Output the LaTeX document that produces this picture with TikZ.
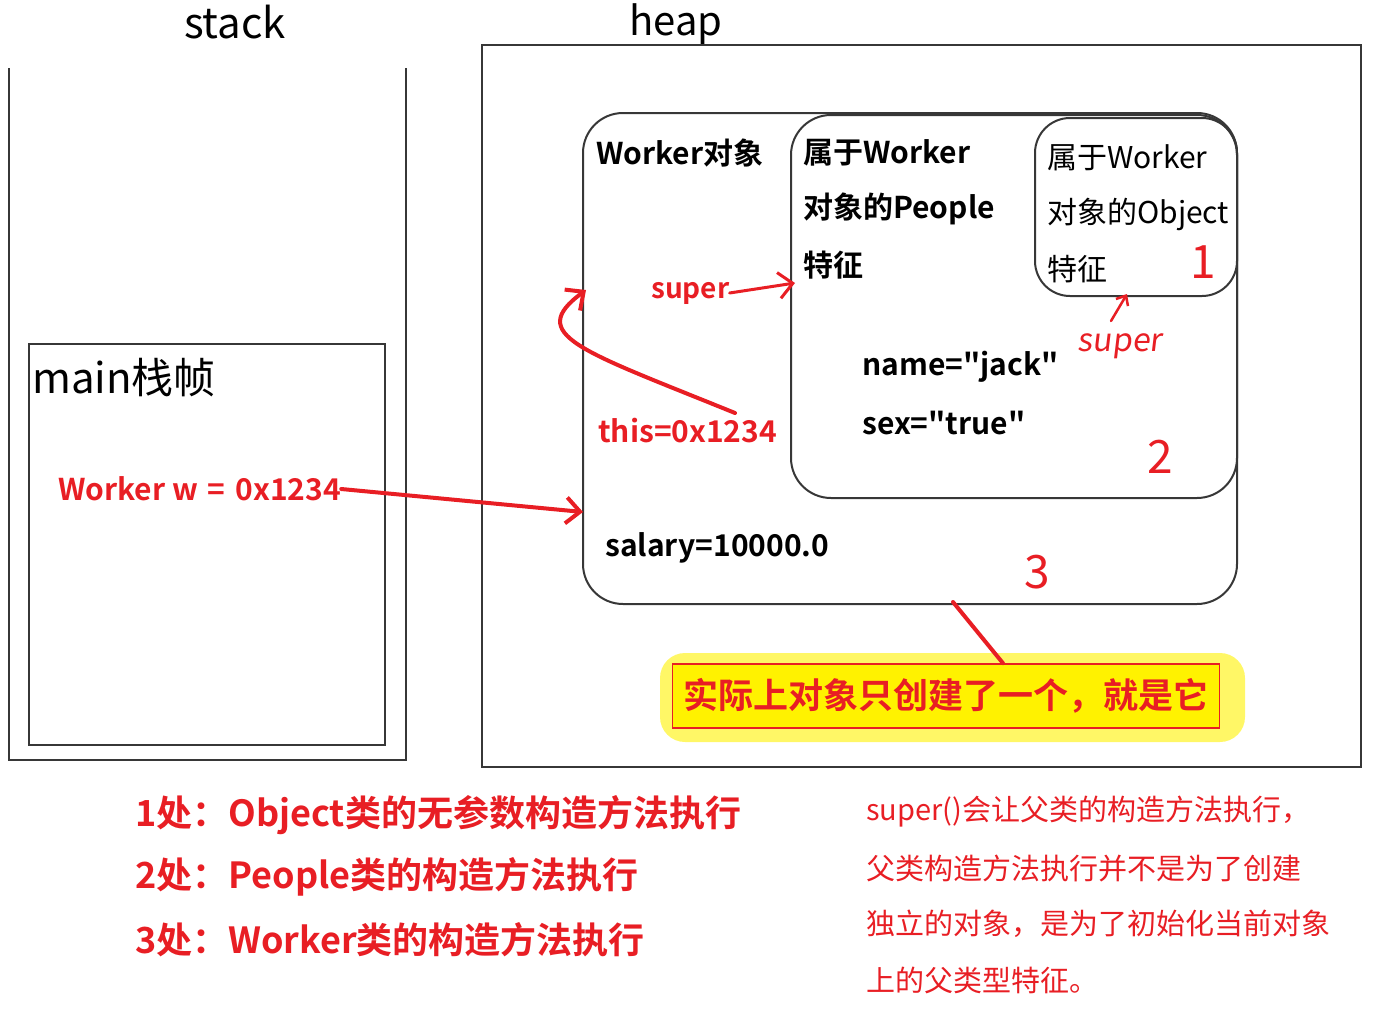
\documentclass[tikz,border=0pt]{standalone}
\usepackage{fontspec}
\setmainfont{Noto Sans CJK SC}[BoldFont={Noto Sans CJK SC Bold}, Ligatures=TeXOff]
\newfontfamily\handfont{Noto Sans CJK SC}[FakeSlant=0.12, Ligatures=TeXOff]
\usetikzlibrary{arrows.meta}
\definecolor{hred}{RGB}{232,30,36}
\definecolor{hyellow}{RGB}{255,242,0}
\definecolor{lgray}{RGB}{55,55,55}
\newcommand{\fs}[1]{\fontsize{#1}{#1}\selectfont}
\tikzset{
  box/.style={draw=lgray, line width=2pt, rounded corners=40pt, inner sep=0pt},
  txt/.style={inner sep=0pt, anchor=west},
  redline/.style={draw=hred, line width=4pt, line cap=round},
  redarrow/.style={redline, -{Straight Barb[length=14pt, width=26pt]}},
}

\begin{document}
\begin{tikzpicture}[x=1pt, y=-1pt]
        \useasboundingbox (0,0) rectangle (1377,1009);

        % stack
        \node[inner sep=0pt] (stacklbl) at (235,22) {\fs{42}stack};
        \draw[lgray, line width=2pt] (9,68) -- (9,760) -- (406,760) -- (406,68);
        % main frame
        \draw[lgray, line width=2pt] (29,344) rectangle (385,745);
        \node[txt] (mainlbl) at (32,378) {\fs{42}main栈帧};
        \node[txt, text=hred] (wvar) at (58,489) {\fs{30}\bfseries Worker w\,\,=\,\,0x1234};

        % heap
        \node[inner sep=0pt] (heaplbl) at (676,24) {\fs{40}heap};
        \draw[lgray, line width=2pt] (482,45) rectangle (1361,767);

        % worker object
        \node[box, minimum width=654pt, minimum height=491pt] (worker) at (910,358.5) {};
        \node[txt] (workerlbl) at (596,153) {\fs{30}\bfseries Worker对象};
        % people part
        \node[box, minimum width=446pt, minimum height=383pt] (people) at (1014,306.5) {};
        \node[txt] (pl1) at (803,153) {\fs{30}\bfseries 属于Worker};
        \node[txt] (pl2) at (803,209) {\fs{30}\bfseries 对象的People};
        \node[txt] (pl3) at (803,265) {\fs{30}\bfseries 特征};
        % object part
        \node[box, rounded corners=35pt, minimum width=202pt, minimum height=178pt] (object) at (1136,207) {};
        \node[txt] (ol1) at (1047,158) {\fs{30}属于Worker};
        \node[txt] (ol2) at (1047,214) {\fs{30}对象的Object};
        \node[txt] (ol3) at (1047,269) {\fs{30}特征};

        % numbers
        \node[inner sep=0pt, text=hred] (num1) at (1203,262) {\fs{46}1};
        \node[inner sep=0pt, text=hred] (num2) at (1160,457) {\fs{46}2};
        \node[inner sep=0pt, text=hred] (num3) at (1037,572) {\fs{46}3};

        % fields
        \node[txt] (name) at (862,367) {\fs{30}\bfseries name="jack"};
        \node[txt] (sex) at (862,423) {\fs{30}\bfseries sex="true"};
        \node[txt] (salary) at (605,548) {\fs{30}\bfseries salary=10000.0};

        % reference w
        \coordinate (wtarget) at (583,512);
        \draw[redarrow] (wvar.east) -- (wtarget);

        % this and super
        \node[txt, text=hred] (thisref) at (598,431) {\fs{30}\bfseries this=0x1234};
        \node[txt, text=hred] (supera) at (651,293) {\fs{28}\bfseries super};
        \coordinate (curvestart) at (735,413);
        \coordinate (curveend) at (586,290);
        \draw[redarrow] (curvestart) .. controls (580,350) and (525,335) .. (curveend);
        \coordinate (peopleleft) at (795,283);
        \draw[redarrow, line width=3pt] (supera.east) -- (peopleleft);

        % super into object part
        \node[inner sep=0pt, text=hred] (superb) at (1120,346) {\fs{32}\handfont super};
        \coordinate (objbottom) at (1127,294);
        \draw[redarrow, line width=2.5pt, -{Straight Barb[length=8pt, width=14pt]}] (1111,321) -- (objbottom);

        % note
        \fill[hyellow, fill opacity=0.6, rounded corners=25pt] (660,653) rectangle (1245,742);
        \node[draw=hred, line width=1.5pt, fill=hyellow, inner sep=0pt, minimum width=547pt, minimum height=64pt, text=hred] (note) at (946,696) {\fs{35}\bfseries 实际上对象只创建了一个，就是它};
        \coordinate (pin) at (953,602);
        \draw[redline] (pin) -- ([xshift=57pt]note.north);

        % explanations
        \node[txt, text=hred] (step1) at (135,815) {\fs{36}\bfseries 1处：Object类的无参数构造方法执行};
        \node[txt, text=hred] (step2) at (135,877) {\fs{36}\bfseries 2处：People类的构造方法执行};
        \node[txt, text=hred] (step3) at (135,940) {\fs{36}\bfseries 3处：Worker类的构造方法执行};

        \node[txt, text=hred] (why1) at (866,812) {\fs{29}super()会让父类的构造方法执行，};
        \node[txt, text=hred] (why2) at (866,868) {\fs{29}父类构造方法执行并不是为了创建};
        \node[txt, text=hred] (why3) at (866,924) {\fs{29}独立的对象，是为了初始化当前对象};
        \node[txt, text=hred] (why4) at (866,980) {\fs{29}上的父类型特征。};
\end{tikzpicture}
\end{document}
